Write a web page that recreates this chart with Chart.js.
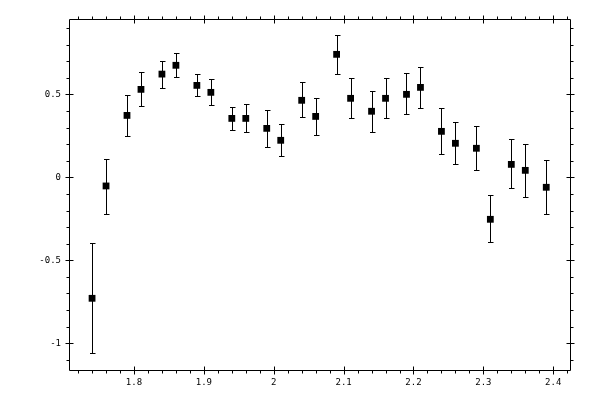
<!DOCTYPE html>
<html>
<head>
<meta charset="utf-8">
<script src="https://cdn.jsdelivr.net/npm/chart.js@4/dist/chart.umd.min.js"></script>
<style>
    html, body { margin: 0; padding: 0; background: #fff; }
    #plot { display: block; }
</style>
</head>
<body>
<canvas id="plot" width="600" height="400"></canvas>
<script>
// data
const xVals = [1.74, 1.76, 1.79, 1.81, 1.84, 1.86, 1.89, 1.91, 1.94, 1.96, 1.99, 2.01, 2.04, 2.06,
    2.09, 2.11, 2.14, 2.16, 2.19, 2.21, 2.24, 2.26, 2.29, 2.31, 2.34, 2.36, 2.39];
const yVals = [-0.729, -0.052, 0.373, 0.530, 0.622, 0.675, 0.554, 0.512, 0.355, 0.355, 0.295, 0.223, 0.464, 0.367,
    0.741, 0.476, 0.398, 0.476, 0.500, 0.542, 0.277, 0.205, 0.175, -0.253, 0.078, 0.042, -0.060];
const yHigh = [-0.398, 0.112, 0.494, 0.634, 0.699, 0.749, 0.620, 0.590, 0.425, 0.440, 0.404, 0.319, 0.572, 0.480,
    0.855, 0.596, 0.518, 0.596, 0.627, 0.663, 0.416, 0.331, 0.307, -0.108, 0.229, 0.199, 0.102];
const yLow = [-1.060, -0.221, 0.247, 0.428, 0.536, 0.602, 0.488, 0.434, 0.283, 0.271, 0.183, 0.128, 0.361, 0.253,
    0.620, 0.355, 0.271, 0.355, 0.380, 0.416, 0.139, 0.078, 0.042, -0.392, -0.066, -0.120, -0.223];

const xTicks = [1.8, 1.9, 2.0, 2.1, 2.2, 2.3, 2.4];
const yTicks = [-1, -0.5, 0, 0.5];
const xMinorStep = 0.02;
const yMinorStep = 0.1;

const xRange = [1.707, 2.424];
const yRange = [-1.161, 0.954];

document.addEventListener("DOMContentLoaded", function () {
    const canvas = document.getElementById("plot");

    // error bars, drawn before the squares
    const errorBars = {
        id: "errorBars",
        beforeDatasetsDraw(chart) {
            const ctx = chart.ctx;
            const xs = chart.scales.x, ys = chart.scales.y;
            ctx.save();
            ctx.strokeStyle = "#000";
            ctx.lineWidth = 1;
            xVals.forEach((xv, i) => {
                const px = Math.round(xs.getPixelForValue(xv)) + 0.5;
                const top = Math.round(ys.getPixelForValue(yHigh[i])) + 0.5;
                const bot = Math.round(ys.getPixelForValue(yLow[i])) + 0.5;
                ctx.beginPath();
                ctx.moveTo(px, top); ctx.lineTo(px, bot);
                ctx.moveTo(px - 2.5, top); ctx.lineTo(px + 3, top);
                ctx.moveTo(px - 2.5, bot); ctx.lineTo(px + 3, bot);
                ctx.stroke();
            });
            ctx.restore();
        }
    };

    // frame with ticks on all four sides
    const frame = {
        id: "frame",
        afterDraw(chart) {
            const ctx = chart.ctx;
            const a = chart.chartArea;
            const xs = chart.scales.x, ys = chart.scales.y;
            const L = Math.round(a.left) + 0.5, R = Math.round(a.right) + 0.5;
            const T = Math.round(a.top) + 0.5, B = Math.round(a.bottom) + 0.5;
            ctx.save();
            ctx.strokeStyle = "#000";
            ctx.lineWidth = 1;
            ctx.beginPath();
            ctx.rect(L, T, R - L, B - T);

            const isMajor = (v, list) => list.some(t => Math.abs(t - v) < 1e-6);

            for (let v = Math.ceil(xRange[0] / xMinorStep) * xMinorStep; v <= xRange[1]; v += xMinorStep) {
                const px = Math.round(xs.getPixelForValue(v)) + 0.5;
                if (isMajor(v, xTicks)) {
                    ctx.moveTo(px, B - 4); ctx.lineTo(px, B + 4);
                    ctx.moveTo(px, T - 4); ctx.lineTo(px, T + 4);
                } else {
                    ctx.moveTo(px, B); ctx.lineTo(px, B + 3);
                    ctx.moveTo(px, T); ctx.lineTo(px, T - 3);
                }
            }
            for (let v = Math.ceil(yRange[0] / yMinorStep) * yMinorStep; v <= yRange[1]; v += yMinorStep) {
                const py = Math.round(ys.getPixelForValue(v)) + 0.5;
                if (isMajor(v, yTicks)) {
                    ctx.moveTo(L - 4, py); ctx.lineTo(L + 4, py);
                    ctx.moveTo(R - 4, py); ctx.lineTo(R + 4, py);
                } else {
                    ctx.moveTo(L, py); ctx.lineTo(L - 3, py);
                    ctx.moveTo(R, py); ctx.lineTo(R + 3, py);
                }
            }
            ctx.stroke();
            ctx.restore();
        }
    };

    const tickFont = { family: "'DejaVu Sans Mono', monospace", size: 9 };

    new Chart(canvas.getContext("2d"), {
        type: "scatter",
        data: {
            datasets: [{
                data: xVals.map((x, i) => ({ x: x, y: yVals[i] })),
                pointStyle: "rect",
                pointRadius: 4.8,
                pointHoverRadius: 4.8,
                backgroundColor: "#000",
                borderColor: "#000",
                borderWidth: 0
            }]
        },
        options: {
            responsive: false,
            animation: false,
            devicePixelRatio: 1,
            layout: { padding: { top: 19, right: 30, left: 0, bottom: 0 } },
            plugins: { legend: { display: false }, tooltip: { enabled: false } },
            scales: {
                x: {
                    type: "linear",
                    min: xRange[0],
                    max: xRange[1],
                    afterBuildTicks: s => { s.ticks = xTicks.map(v => ({ value: v })); },
                    afterFit: s => { s.height = 30; },
                    grid: { display: false, drawTicks: false },
                    border: { display: false },
                    ticks: {
                        color: "#000",
                        font: tickFont,
                        padding: 7,
                        maxRotation: 0,
                        autoSkip: false,
                        callback: v => String(Math.round(v * 10) / 10)
                    }
                },
                y: {
                    type: "linear",
                    min: yRange[0],
                    max: yRange[1],
                    afterBuildTicks: s => { s.ticks = yTicks.map(v => ({ value: v })); },
                    afterFit: s => { s.width = 69; },
                    grid: { display: false, drawTicks: false },
                    border: { display: false },
                    ticks: {
                        color: "#000",
                        font: tickFont,
                        padding: 8,
                        autoSkip: false,
                        callback: v => String(Math.round(v * 10) / 10)
                    }
                }
            }
        },
        plugins: [errorBars, frame]
    });
});
</script>
</body>
</html>
